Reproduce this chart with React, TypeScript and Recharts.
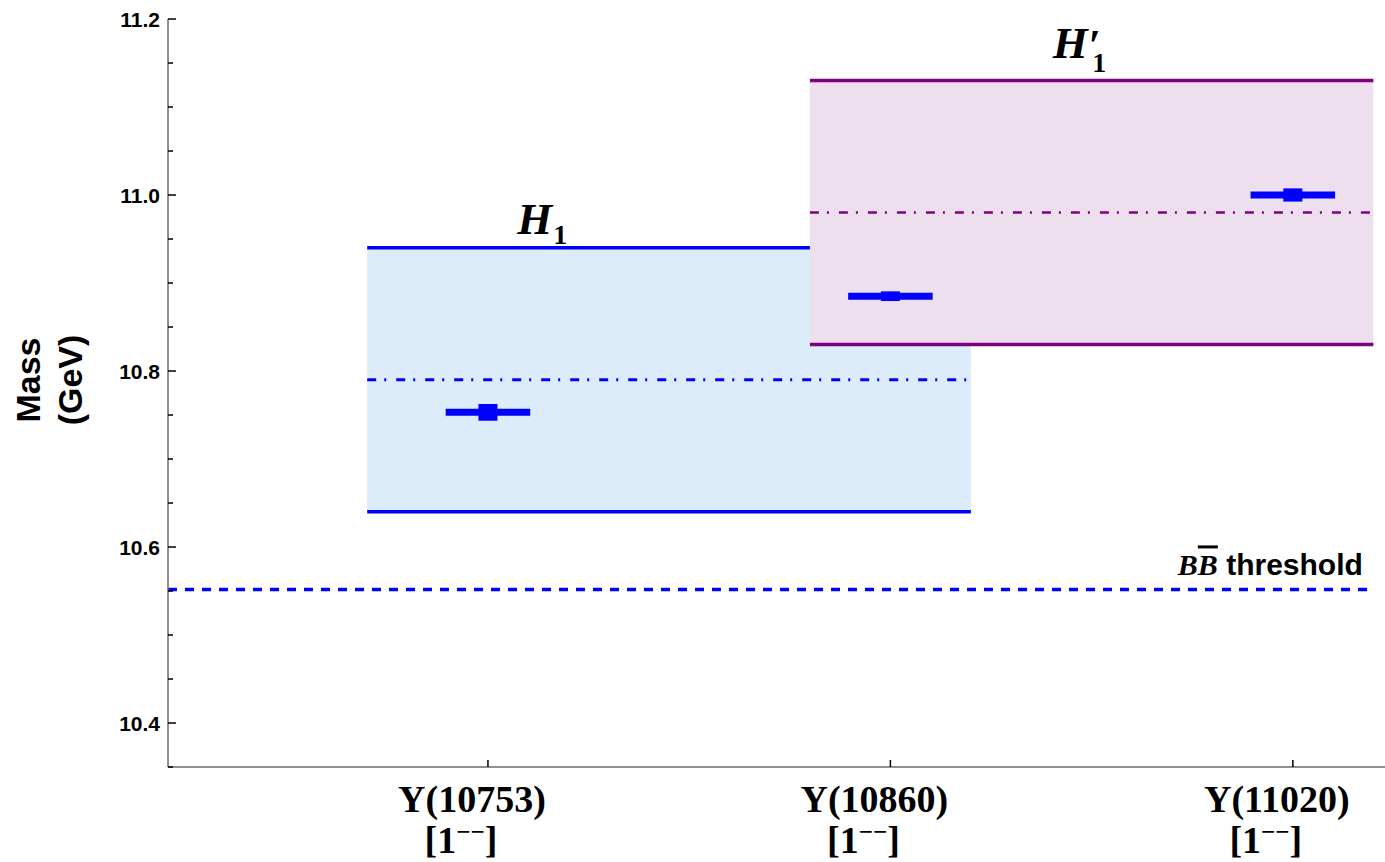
import {
  ComposedChart,
  ErrorBar,
  ReferenceArea,
  ReferenceDot,
  ReferenceLine,
  Scatter,
  XAxis,
  YAxis,
} from "recharts";

// observed states
const STATES = ["Υ(10753)", "Υ(10860)", "Υ(11020)"];
const STATE_JPC = ["1", "1", "1"];
const STATE_POS = [1, 2, 3];
const STATE_MASS = [10.753, 10.885, 11.0];
const STATE_MASS_ERR = [0.0095, 0.0055, 0.0075];
const STATE_X_HALF = [0.105, 0.105, 0.105];

// predicted bands: [low, central, high] and x span
const H1_X = [0.7, 2.2];
const H1_MASS = [10.64, 10.79, 10.94];
const H1P_X = [1.8, 3.2];
const H1P_MASS = [10.83, 10.98, 11.13];
const BB_THRESHOLD = 10.5518;

const X_DOMAIN = [0.205, 3.229];
const Y_DOMAIN = [10.35, 11.2];
const Y_TICKS = [
  10.35, 10.4, 10.45, 10.5, 10.55, 10.6, 10.65, 10.7, 10.75, 10.8, 10.85,
  10.9, 10.95, 11.0, 11.05, 11.1, 11.15, 11.2,
];

const BLUE = "#0000ff";
const PURPLE = "#800080";
const SERIF = "'Liberation Serif', 'DejaVu Serif', serif";
const SANS = "'Liberation Sans', Arial, sans-serif";

const points = STATE_POS.map((x, i) => ({
  x,
  y: STATE_MASS[i],
  ex: STATE_X_HALF[i],
  ey: STATE_MASS_ERR[i],
}));

const isMajor = (v: number) => Math.abs(v * 5 - Math.round(v * 5)) < 1e-6;

function YTick({ x, y, payload }: any) {
  const v = Number(payload.value);
  const major = isMajor(v);
  const ax = x + 8;
  return (
    <g>
      <line
        x1={ax}
        x2={ax + (major ? 8 : 5)}
        y1={y}
        y2={y}
        stroke="#000"
        strokeWidth={1.5}
      />
      {major ? (
        <text
          x={x}
          y={y}
          dy={7.5}
          textAnchor="end"
          fontFamily={SANS}
          fontWeight="bold"
          fontSize={21}
          fill="#000"
        >
          {v.toFixed(1)}
        </text>
      ) : null}
    </g>
  );
}

function XTick({ x, y, payload }: any) {
  const i = STATE_POS.indexOf(Number(payload.value));
  if (i < 0) return null;
  return (
    <g>
      <line x1={x} x2={x} y1={y} y2={y - 7} stroke="#000" strokeWidth={1.5} />
      <text
        x={x - 16}
        y={y + 45}
        textAnchor="middle"
        fontFamily={SERIF}
        fontWeight="bold"
        fontSize={38}
        fill="#000"
      >
        {STATES[i]}
      </text>
      <text
        x={x - 27}
        y={y + 86}
        textAnchor="middle"
        fontFamily={SERIF}
        fontWeight="bold"
        fontSize={38}
        fill="#000"
      >
        [{STATE_JPC[i]}
        <tspan fontSize={25} dy={-13}>
          −−
        </tspan>
        <tspan dy={13}>]</tspan>
      </text>
    </g>
  );
}

function HLabel({ viewBox, prime }: any) {
  const cx = viewBox.x + viewBox.width / 2;
  const cy = viewBox.y + viewBox.height / 2;
  return (
    <text
      x={cx}
      y={prime ? cy - 23 : cy - 14}
      textAnchor="middle"
      fontFamily={SERIF}
      fontWeight="bold"
      fill="#000"
    >
      <tspan fontStyle="italic" fontSize={45}>
        H
      </tspan>
      {prime ? (
        <tspan fontSize={44} dx={1} dy={2}>
          ′
        </tspan>
      ) : null}
      <tspan fontSize={28} dx={prime ? -9 : 1} dy={prime ? 12 : 10}>
        1
      </tspan>
    </text>
  );
}

function ThresholdLabel({ viewBox }: any) {
  const cx = viewBox.x + viewBox.width / 2;
  const cy = viewBox.y + viewBox.height / 2;
  return (
    <text x={cx} y={cy - 14} textAnchor="end" fontWeight="bold" fill="#000">
      <tspan fontFamily={SERIF} fontStyle="italic" fontSize={30}>
        B
      </tspan>
      <tspan
        fontFamily={SERIF}
        fontStyle="italic"
        fontSize={30}
        style={{ textDecoration: "overline" }}
      >
        B
      </tspan>
      <tspan fontFamily={SANS} fontSize={30}>
        {" threshold"}
      </tspan>
    </text>
  );
}

function MassLabel({ viewBox }: any) {
  const px = viewBox.x - 48;
  const py = 380;
  return (
    <text
      transform={`rotate(-90, ${px}, ${py})`}
      textAnchor="middle"
      fontFamily={SANS}
      fontWeight="bold"
      fontSize={34}
      fill="#000"
    >
      <tspan x={px} y={py - 20}>
        Mass
      </tspan>
      <tspan x={px} y={py + 22}>
        (GeV)
      </tspan>
    </text>
  );
}

export default function App() {
  return (
    <div
      style={{
        position: "absolute",
        left: 0,
        top: 0,
        width: 1385,
        height: 862,
        background: "#fff",
      }}
    >
      <ComposedChart
        width={1385}
        height={862}
        data={points}
        margin={{ top: 19, right: 0, bottom: 0, left: 108 }}
      >
        <XAxis
          type="number"
          dataKey="x"
          domain={X_DOMAIN}
          allowDataOverflow
          ticks={STATE_POS}
          interval={0}
          height={95}
          tickSize={0}
          tickMargin={0}
          tickLine={false}
          axisLine={{ stroke: "#6b6b6b", strokeWidth: 1.5 }}
          tick={<XTick />}
        />
        <YAxis
          type="number"
          dataKey="y"
          domain={Y_DOMAIN}
          allowDataOverflow
          ticks={Y_TICKS}
          interval={0}
          width={60}
          tickSize={0}
          tickMargin={8}
          tickLine={false}
          axisLine={{ stroke: "#6b6b6b", strokeWidth: 1.5 }}
          tick={<YTick />}
          label={{ content: (p: any) => <MassLabel {...p} /> }}
        />

        {/* H1 band */}
        <ReferenceArea
          x1={H1_X[0]}
          x2={H1_X[1]}
          y1={H1_MASS[0]}
          y2={H1_MASS[2]}
          fill="#dcecfb"
          fillOpacity={1}
          stroke="none"
        />
        <ReferenceLine
          segment={[
            { x: H1_X[0], y: H1_MASS[2] },
            { x: H1P_X[0], y: H1_MASS[2] },
          ]}
          stroke={BLUE}
          strokeWidth={3.5}
        />
        <ReferenceLine
          segment={[
            { x: H1_X[0], y: H1_MASS[0] },
            { x: H1_X[1], y: H1_MASS[0] },
          ]}
          stroke={BLUE}
          strokeWidth={3.5}
        />
        <ReferenceLine
          segment={[
            { x: H1_X[0], y: H1_MASS[1] },
            { x: H1_X[1], y: H1_MASS[1] },
          ]}
          stroke={BLUE}
          strokeWidth={3}
          strokeDasharray="9 8 2 10"
        />

        {/* H1' band */}
        <ReferenceArea
          x1={H1P_X[0]}
          x2={H1P_X[1]}
          y1={H1P_MASS[0]}
          y2={H1P_MASS[2]}
          fill="#eedfee"
          fillOpacity={1}
          stroke="none"
        />
        <ReferenceLine
          segment={[
            { x: H1P_X[0], y: H1P_MASS[2] },
            { x: H1P_X[1], y: H1P_MASS[2] },
          ]}
          stroke={PURPLE}
          strokeWidth={3.5}
        />
        <ReferenceLine
          segment={[
            { x: H1P_X[0], y: H1P_MASS[0] },
            { x: H1P_X[1], y: H1P_MASS[0] },
          ]}
          stroke={PURPLE}
          strokeWidth={3.5}
        />
        <ReferenceLine
          segment={[
            { x: H1P_X[0], y: H1P_MASS[1] },
            { x: H1P_X[1], y: H1P_MASS[1] },
          ]}
          stroke={PURPLE}
          strokeWidth={2.5}
          strokeDasharray="9 8 2 10"
        />

        {/* BB threshold */}
        <ReferenceLine
          segment={[
            { x: X_DOMAIN[0], y: BB_THRESHOLD },
            { x: H1P_X[1], y: BB_THRESHOLD },
          ]}
          stroke={BLUE}
          strokeWidth={3.5}
          strokeDasharray="9 8"
        />

        <ReferenceDot
          x={1.135}
          y={H1_MASS[2]}
          r={1}
          fill="none"
          stroke="none"
          label={{ content: (p: any) => <HLabel {...p} /> }}
        />
        <ReferenceDot
          x={2.47}
          y={H1P_MASS[2]}
          r={1}
          fill="none"
          stroke="none"
          label={{ content: (p: any) => <HLabel {...p} prime /> }}
        />
        <ReferenceDot
          x={3.174}
          y={BB_THRESHOLD}
          r={1}
          fill="none"
          stroke="none"
          label={{ content: (p: any) => <ThresholdLabel {...p} /> }}
        />

        <Scatter
          dataKey="y"
          isAnimationActive={false}
          shape={() => <g />}
        >
          <ErrorBar
            dataKey="ex"
            direction="x"
            width={0}
            stroke={BLUE}
            strokeWidth={7}
            isAnimationActive={false}
          />
          <ErrorBar
            dataKey="ey"
            direction="y"
            width={0}
            stroke={BLUE}
            strokeWidth={19}
            isAnimationActive={false}
          />
        </Scatter>
      </ComposedChart>
    </div>
  );
}
